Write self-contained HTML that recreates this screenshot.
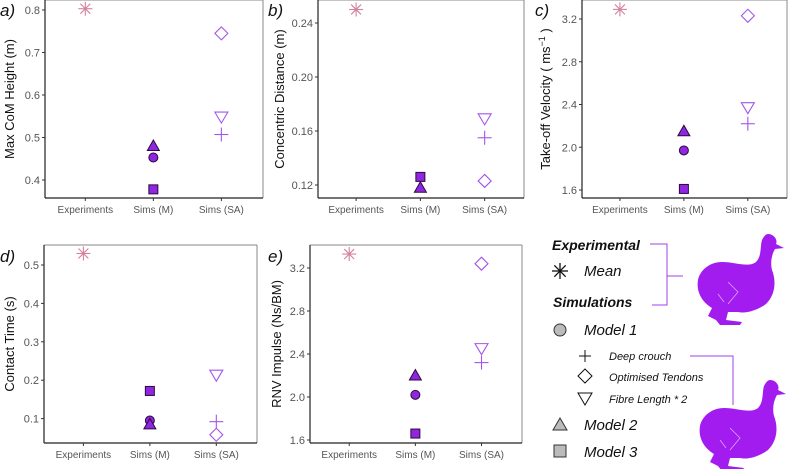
<!DOCTYPE html>
<html><head><meta charset="utf-8"><style>
body{margin:0;background:#fff;width:799px;height:469px;overflow:hidden}
svg{font-family:"Liberation Sans",sans-serif}
</style></head><body>
<svg id="s" width="799" height="469" viewBox="0 0 799 469"></svg>
<script>
const NS="http://www.w3.org/2000/svg";
const svg=document.getElementById('s');
const categories=["Experiments","Sims (M)","Sims (SA)"];
// panel data: [exp, m1 circle, m2 triangle, m3 square, deep crouch, optimised tendons, fibre length*2]
const valsA=[0.803,0.453,0.48,0.378,0.507,0.745,0.548];
const valsB=[0.250,null,0.118,0.126,0.155,0.123,0.169];
const valsC=[3.29,1.97,2.15,1.61,2.22,3.23,2.37];
const valsD=[0.53,0.095,0.085,0.172,0.092,0.058,0.213];
const valsE=[3.33,2.02,2.2,1.66,2.32,3.24,2.45];
const ticksA=[0.4,0.5,0.6,0.7,0.8];
const ticksB=[0.12,0.16,0.20,0.24];
const ticksC=[1.6,2.0,2.4,2.8,3.2];
const ticksD=[0.1,0.2,0.3,0.4,0.5];
const ticksE=[1.6,2.0,2.4,2.8,3.2];
const tickLabA=["0.4","0.5","0.6","0.7","0.8"];
const tickLabB=["0.12","0.16","0.20","0.24"];
const tickLabC=["1.6","2.0","2.4","2.8","3.2"];
const tickLabD=["0.1","0.2","0.3","0.4","0.5"];
const tickLabE=["1.6","2.0","2.4","2.8","3.2"];

function el(t,a,p){const e=document.createElementNS(NS,t);for(const k in a)e.setAttribute(k,a[k]);(p||svg).appendChild(e);return e;}
const PINK="#d4809e",FILL="#9026e0",OPEN="#a455ec";

function marker(g,type,x,y){
  let m;
  if(type==='ast'){m=el('g',{stroke:PINK,'stroke-width':1.1},g);
    [0,90,45,135].forEach(a=>{const c=Math.cos(a*Math.PI/180)*7,s=Math.sin(a*Math.PI/180)*7;el('line',{x1:x-c,y1:y-s,x2:x+c,y2:y+s},m);});}
  else if(type==='circle')m=el('circle',{cx:x,cy:y,r:4.5,fill:FILL,stroke:'#2a0a40','stroke-width':1},g);
  else if(type==='tri')m=el('polygon',{points:`${x},${y-6} ${x+6},${y+4.5} ${x-6},${y+4.5}`,fill:FILL,stroke:'#2a0a40','stroke-width':1},g);
  else if(type==='sq')m=el('rect',{x:x-4.5,y:y-4.5,width:9,height:9,fill:FILL,stroke:'#2a0a40','stroke-width':1},g);
  else if(type==='plus'){m=el('g',{stroke:OPEN,'stroke-width':1.1},g);el('line',{x1:x-7,y1:y,x2:x+7,y2:y},m);el('line',{x1:x,y1:y-7,x2:x,y2:y+7},m);}
  else if(type==='dia')m=el('polygon',{points:`${x},${y-6.5} ${x+6.5},${y} ${x},${y+6.5} ${x-6.5},${y}`,fill:'none',stroke:OPEN,'stroke-width':1.1},g);
  else if(type==='tdown')m=el('polygon',{points:`${x-6.5},${y-5} ${x+6.5},${y-5} ${x},${y+6}`,fill:'none',stroke:OPEN,'stroke-width':1.1},g);
  return m;
}
const types=['ast','circle','tri','sq','plus','dia','tdown'];
const catIdx=[0,1,1,1,2,2,2];

function panel(o){
  const g=el('g',{});
  
  
  const {L,R,T,B,v0,y0,v1,y1}=o;
  const ys=v=>y0+(v-v0)*(y1-y0)/(v1-v0);
  const xs=i=>L+(R-L)*(0.185+i*0.312);
  el('line',{x1:L,y1:T,x2:R,y2:T,stroke:'#888','stroke-width':1},g);
  el('line',{x1:R,y1:T,x2:R,y2:B,stroke:'#888','stroke-width':1},g);
  el('line',{x1:L,y1:T,x2:L,y2:B,stroke:'#222','stroke-width':1.2},g);
  el('line',{x1:L,y1:B,x2:R,y2:B,stroke:'#222','stroke-width':1.2},g);
  o.ticks.forEach((t,i)=>{const y=ys(t);
    el('line',{x1:L-3,y1:y,x2:L,y2:y,stroke:'#333'},g);
    const tx=el('text',{x:L-5,y:y+4,'text-anchor':'end','font-size':11,fill:'#555'},g);tx.textContent=o.tl[i];
    
    });
  categories.forEach((c,i)=>{const x=xs(i);
    el('line',{x1:x,y1:B,x2:x,y2:B+3,stroke:'#333'},g);
    const tx=el('text',{x:x,y:B+15,'text-anchor':'middle','font-size':10,fill:'#555'},g);tx.textContent=c;
    
    });
  const yt=el('text',{transform:`translate(${o.tx},${(T+B)/2}) rotate(-90)`,'text-anchor':'middle','font-size':13,fill:'#111'},g);
  yt.innerHTML=o.title;
  
  
  const pl=el('text',{x:o.lx,y:o.ly,'font-size':17,'font-style':'italic',fill:'#111'},g);pl.textContent=o.id+')';
  
  
  o.vals.forEach((v,i)=>{if(v==null)return;
    const m=marker(g,types[i],xs(catIdx[i]),ys(v));
    
    });
}
panel({id:'a',L:45,R:263,T:0,B:198,v0:0.4,y0:180,v1:0.8,y1:10,ticks:ticksA,tl:tickLabA,vals:valsA,title:'Max CoM Height (m)',tx:14,lx:0,ly:16});
panel({id:'b',L:318,R:524,T:0,B:198,v0:0.12,y0:185,v1:0.24,y1:23,ticks:ticksB,tl:tickLabB,vals:valsB,title:'Concentric Distance (m)',tx:284,lx:268,ly:16});
panel({id:'c',L:582,R:787,T:0,B:198,v0:1.6,y0:190,v1:3.2,y1:19,ticks:ticksC,tl:tickLabC,vals:valsC,title:'Take-off Velocity ( ms<tspan dy="-5" font-size="9">−1</tspan><tspan dy="5"> )</tspan>',tx:550,lx:535,ly:16});
panel({id:'d',L:44,R:257,T:245,B:443,v0:0.1,y0:418.6,v1:0.5,y1:265,ticks:ticksD,tl:tickLabD,vals:valsD,title:'Contact Time (s)',tx:14,lx:0,ly:262});
panel({id:'e',L:310,R:522,T:245,B:443,v0:1.6,y0:440,v1:3.2,y1:268,ticks:ticksE,tl:tickLabE,vals:valsE,title:'RNV Impulse (Ns/BM)',tx:281,lx:268,ly:262});

// legend
const lg=el('g',{});


function txt(x,y,s,size,bold){const t=el('text',{x:x,y:y,'font-size':size,'font-style':'italic','font-weight':bold?'bold':'normal',fill:'#111'},lg);t.textContent=s;
  
  return t;}
txt(552,250,'Experimental',14,true);
txt(553,307,'Simulations',14,true);
const ast=el('g',{stroke:'#111','stroke-width':1.3},lg);
[0,90,45,135].forEach(a=>{const c=Math.cos(a*Math.PI/180)*8,s=Math.sin(a*Math.PI/180)*8;el('line',{x1:560-c,y1:271-s,x2:560+c,y2:271+s},ast);});
txt(584,276,'Mean',15);
el('circle',{cx:560,cy:330,r:6,fill:'#bbb',stroke:'#333'},lg);txt(584,335,'Model 1',15);
el('line',{x1:579,y1:356,x2:591,y2:356,stroke:'#111'},lg);el('line',{x1:585,y1:350,x2:585,y2:362,stroke:'#111'},lg);
txt(609,360,'Deep crouch',11);
el('polygon',{points:'585,369 592,376 585,383 578,376',fill:'none',stroke:'#111'},lg);txt(609,381,'Optimised Tendons',11);
el('polygon',{points:'578,393 592,393 585,405',fill:'none',stroke:'#111'},lg);txt(609,403,'Fibre Length * 2',11);
el('polygon',{points:'560,418 567,430 553,430',fill:'#bbb',stroke:'#333'},lg);txt(584,430,'Model 2',15);
el('rect',{x:554,y:445,width:12,height:12,fill:'#bbb',stroke:'#333'},lg);txt(584,457,'Model 3',15);
const br=el('g',{stroke:'#a040e8','stroke-width':1,fill:'none'},lg);
el('polyline',{points:'650,244 667,244 667,305 652,305'},br);
el('line',{x1:667,y1:276,x2:683,y2:276},br);
el('polyline',{points:'690,356 733,356 733,405'},br);
function bird(dx,dy,name){const b=el('g',{transform:`translate(${dx},${dy})`,fill:'#a21cf0'},lg);
  
  
  el('path',{d:'M80 2 C86 2 90 8 88 12 L96 16 L87 17 C84 22 82 30 84 38 C88 48 88 62 78 72 C70 78 58 82 50 80 L40 80 L38 88 L54 90 L52 93 L32 93 L28 88 L20 84 L24 76 C14 70 8 60 10 48 C12 38 22 30 34 30 C48 30 60 36 68 30 C74 24 72 14 74 8 C76 4 78 2 80 2 Z'},b);
  el('path',{d:'M40 50 L50 60 L40 72 M30 62 L36 70',stroke:'#e0a0ff','stroke-width':0.8,fill:'none'},b);
}
bird(688,232,'bird-silhouette-top');
bird(690,378,'bird-silhouette-bottom');
</script>
</body></html>
